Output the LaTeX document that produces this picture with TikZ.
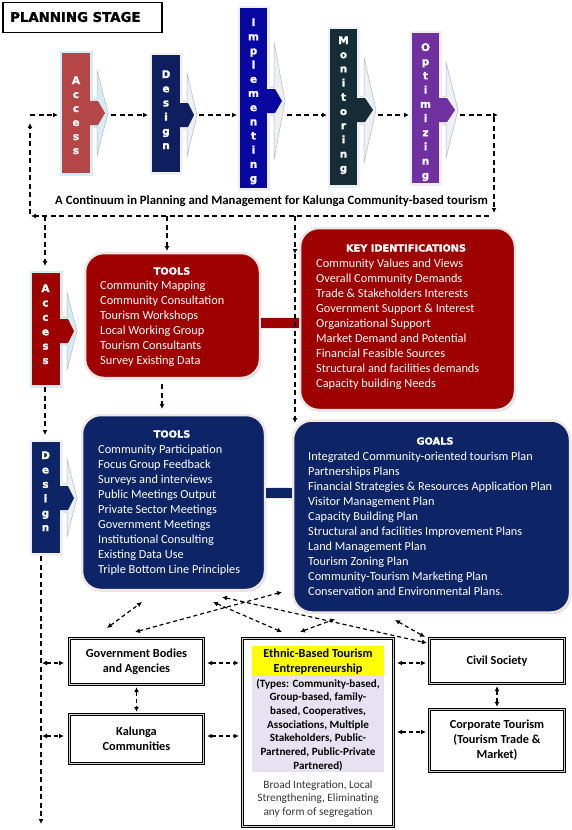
\documentclass[tikz,border=0pt]{standalone}
\usepackage{fontspec}
\setmainfont{Carlito}
\newfontfamily\heavy{DejaVu Sans}[BoldFeatures={FakeBold=1.6}]
\usetikzlibrary{arrows.meta,shadows}
\definecolor{topred}{RGB}{180,70,72}
\definecolor{topnavy}{RGB}{15,30,95}
\definecolor{implblue}{RGB}{8,8,160}
\definecolor{monteal}{RGB}{22,45,55}
\definecolor{optpurple}{RGB}{112,48,160}
\definecolor{boxred}{RGB}{158,0,0}
\definecolor{boxnavy}{RGB}{13,36,103}
\definecolor{paleblue}{RGB}{212,236,243}
\definecolor{palegray}{RGB}{238,240,246}
\definecolor{rim}{RGB}{242,230,230}
\definecolor{lavender}{RGB}{230,226,242}
\definecolor{textgray}{RGB}{55,55,55}
\definecolor{hilite}{RGB}{255,255,0}

% #1 L, #2 R, #3 T, #4 B, #5 C, #6 tip X, #7 head half height, #8 fill, #9 pale
\newcommand\arrowshape[9]{%
  \filldraw[fill=#9, draw=gray!55, line width=0.5pt]
    ({#2},{#5-14}) -- ({#2+7},{#5-14}) -- ({#2+7},{#5-#7}) -- ({#6},{#5})
    -- ({#2+7},{#5+#7}) -- ({#2+7},{#5+14}) -- ({#2},{#5+14}) -- cycle;
  \fill[#9] ({#1-2.5},{#3-2.5}) rectangle ({#2+2.5},{#4+2.5});
  \fill[#8] ({#1},{#3}) rectangle ({#2},{#4});
  \fill[#8] ({#2-1},{#5-12}) -- ({#2+8},{#5-12}) -- ({#6-3},{#5})
    -- ({#2+8},{#5+12}) -- ({#2-1},{#5+12}) -- cycle;
}

\tikzset{
  letter/.style={text=white, font=\heavy\bfseries\fontsize{10.5}{10}\selectfont, anchor=base, inner sep=0pt},
  head/.style={text=white, font=\heavy\bfseries\fontsize{9.8}{10}\selectfont, inner sep=0pt},
  body/.style={text=white, font=\fontsize{12.3}{15}\selectfont, anchor=base west, inner sep=0pt},
  rbox/.style={draw=rim, line width=2.5pt, fill=#1, rounded corners=19pt,
    drop shadow={shadow xshift=1.2pt, shadow yshift=-1.6pt, opacity=0.35}},
  dbox/.style={draw=black, line width=1.3pt, double=gray!35, double distance=1.1pt,
    fill=white, align=center, font=\bfseries\fontsize{12.3}{15}\selectfont, inner sep=0pt},
  flow/.style={line width=1.3pt, dash pattern=on 5pt off 3.5pt, -{Latex[length=5pt,width=5pt]}},
  twoway/.style={line width=1.2pt, dash pattern=on 4pt off 3pt,
    {Latex[length=5pt,width=5pt]}-{Latex[length=5pt,width=5pt]}},
  bar/.style={line width=#1},
}

\begin{document}
\begin{tikzpicture}[x=1pt,y=-1pt]
\useasboundingbox (0,0) rectangle (572,830);

% ---------------- title ----------------
\node[draw, line width=1.5pt, minimum width=159pt, minimum height=30pt, inner sep=0pt] (title) at (82.5,17.5) {};
\node[anchor=west, inner sep=0pt, font=\heavy\bfseries\fontsize{13.3}{13}\selectfont] (titletext) at (10,17) {PLANNING STAGE};

% ---------------- top row of stage arrows ----------------
\arrowshape{62}{90}{53}{173}{113}{108}{43}{topred}{paleblue}
\arrowshape{152}{180}{55}{172}{115}{197}{42}{topnavy}{palegray}
\arrowshape{240}{267}{8}{188}{101}{285}{59}{implblue}{palegray}
\arrowshape{330}{357}{29}{185}{110}{376}{53}{monteal}{palegray}
\arrowshape{412}{439}{33}{183}{110}{458}{48}{optpurple}{palegray}

\foreach \l [count=\i from 0] in {A,c,c,e,s,s}
  \node[letter] (ta\i) at (76,{84+\i*14}) {\l};
\foreach \l [count=\i from 0] in {D,e,s,i,g,n}
  \node[letter] (td\i) at (166,{78+\i*14.2}) {\l};
\foreach \l [count=\i from 0] in {I,m,p,l,e,m,e,n,t,i,n,g}
  \node[letter] (ti\i) at (253.5,{26+\i*14.18}) {\l};
\foreach \l [count=\i from 0] in {M,o,n,i,t,o,r,i,n,g}
  \node[letter] (tm\i) at (343.5,{44+\i*14.2}) {\l};
\foreach \l [count=\i from 0] in {O,p,t,i,m,i,z,i,n,g}
  \node[letter] (to\i) at (425.5,{51+\i*14.2}) {\l};

\node[anchor=base, inner sep=0pt, font=\bfseries\fontsize{12.7}{15}\selectfont] (caption) at (271.5,204)
  {A Continuum in Planning and Management for Kalunga Community-based tourism};

% named points of the flow loop
\coordinate (loopTL) at (30,115);
\coordinate (accW) at (58,115);
\coordinate (accE) at (111,115);
\coordinate (desW) at (148,115);
\coordinate (desE) at (199,115);
\coordinate (impW) at (237,115);
\coordinate (impE) at (287,115);
\coordinate (monW) at (327,115);
\coordinate (monE) at (378,115);
\coordinate (optW) at (409,115);
\coordinate (optE) at (460,115);
\coordinate (loopTR) at (498,115);
\coordinate (loopR1) at (494,117);
\coordinate (loopR2) at (494,213);
\coordinate (loopBR) at (489,216);
\coordinate (loopBL) at (31,216);
\coordinate (loopL1) at (30,214);
\coordinate (loopL2) at (30,123);

\draw[flow] (loopTL) -- (accW);
\draw[flow] (accE) -- (desW);
\draw[flow] (desE) -- (impW);
\draw[flow] (impE) -- (monW);
\draw[flow] (monE) -- (optW);
\draw[flow] (optE) -- (loopTR);
\draw[flow] (loopR1) -- (loopR2);
\draw[flow] (loopBR) -- (loopBL);
\draw[flow] (loopL1) -- (loopL2);

% ---------------- left stage arrows ----------------
\arrowshape{32}{60}{273}{385}{331}{77}{39}{boxred}{paleblue}
\arrowshape{32}{60}{442}{553}{498}{77}{39}{boxnavy}{palegray}
\foreach \l [count=\i from 0] in {A,c,c,e,s,s}
  \node[letter] (la\i) at (45.5,{292+\i*14.4}) {\l};
\foreach \l [count=\i from 0] in {D,e,s,i,g,n}
  \node[letter] (ld\i) at (45.5,{459+\i*14.4}) {\l};

% ---------------- rounded boxes ----------------
\node[rbox=boxred, minimum width=175pt, minimum height=125pt] (tools1) at (172.5,315.5) {};
\node[rbox=boxred, minimum width=215pt, minimum height=182pt] (key) at (407.5,319) {};
\node[rbox=boxnavy, minimum width=183pt, minimum height=175pt] (tools2) at (173.5,502.5) {};
\node[rbox=boxnavy, minimum width=277pt, minimum height=192pt] (goals) at (431.5,516.5) {};

% bars joining the boxes
\coordinate (bar1y) at (0,323);
\coordinate (bar2y) at (0,493);
\draw[bar=12.5pt, rim] (tools1.east |- bar1y) -- (key.west |- bar1y);
\draw[bar=9.5pt, boxred] (tools1.east |- bar1y) -- (key.west |- bar1y);
\draw[bar=12.5pt, rim] (tools2.east |- bar2y) -- (goals.west |- bar2y);
\draw[bar=9.5pt, boxnavy] (tools2.east |- bar2y) -- (goals.west |- bar2y);

% texts of the boxes
\node[head] (h1) at (172,271) {TOOLS};
\foreach \t [count=\i from 0] in {Community Mapping, Community Consultation, Tourism Workshops,
  Local Working Group, Tourism Consultants, Survey Existing Data}
  \node[body] (a\i) at (100,{289.5+\i*15}) {\t};

\node[head] (h2) at (406,248) {KEY IDENTIFICATIONS};
\foreach \t [count=\i from 0] in {Community Values and Views, Overall Community Demands,
  Trade \& Stakeholders Interests, Government Support \& Interest, Organizational Support,
  Market Demand and Potential, Financial Feasible Sources, Structural and facilities demands,
  Capacity building Needs}
  \node[body] (k\i) at (316,{267+\i*15}) {\t};

\node[head] (h3) at (172,434) {TOOLS};
\foreach \t [count=\i from 0] in {Community Participation, Focus Group Feedback,
  Surveys and interviews, Public Meetings Output, Private Sector Meetings,
  Government Meetings, Institutional Consulting, Existing Data Use,
  Triple Bottom Line Principles}
  \node[body] (b\i) at (98,{453+\i*15}) {\t};

\node[head] (h4) at (435,441) {GOALS};
\foreach \t [count=\i from 0] in {Integrated Community-oriented tourism Plan, Partnerships Plans,
  Financial Strategies \& Resources Application Plan, Visitor Management Plan,
  Capacity Building Plan, Structural and facilities Improvement Plans,
  Land Management Plan, Tourism Zoning Plan, Community-Tourism Marketing Plan,
  Conservation and Environmental Plans.}
  \node[body] (g\i) at (308,{460+\i*15}) {\t};

% ---------------- dashed links of the middle part ----------------
\coordinate (brA1) at (45,216);   \coordinate (brA2) at (45,266);
\coordinate (brT1) at (167,216);  \coordinate (brT2) at (167,251);
\coordinate (brK1) at (295,216);  \coordinate (brK2) at (295,254);
\coordinate (brK3) at (295,423);
\coordinate (acdn1) at (45,387);  \coordinate (acdn2) at (45,435);
\coordinate (tldn1) at (162,384); \coordinate (tldn2) at (162,409);
\coordinate (left1) at (41,556);  \coordinate (left2) at (41,824);

\draw[flow] (brA1) -- (brA2);
\draw[flow] (brT1) -- (brT2);
\draw[flow] (brK1) -- (brK2);
\draw[flow] (brK2) -- (brK3);
\draw[flow] (acdn1) -- (acdn2);
\draw[flow] (tldn1) -- (tldn2);
\draw[flow] (left1) -- (left2);

% ---------------- bottom boxes ----------------
\node[dbox, minimum width=134pt, minimum height=46pt] (gov) at (136.5,661.5) {Government Bodies\\and Agencies};
\node[dbox, minimum width=134pt, minimum height=49pt] (kal) at (136.5,739) {Kalunga\\Communities};
\node[dbox, minimum width=135pt, minimum height=45pt] (civ) at (497,661) {Civil Society};
\node[dbox, minimum width=135pt, minimum height=62pt] (corp) at (497,740.5) {Corporate Tourism\\(Tourism Trade \&\\Market)};
\node[dbox, minimum width=151pt, minimum height=188pt] (eth) at (318,732.5) {};
\fill[hilite] (252,646) rectangle (384,676);
\fill[lavender] (252,676) rectangle (384,772);
\node[anchor=base, inner sep=0pt, font=\bfseries\fontsize{12.3}{15}\selectfont] (e0) at (318,657) {Ethnic-Based Tourism};
\node[anchor=base, inner sep=0pt, font=\bfseries\fontsize{12.3}{15}\selectfont] (e1) at (318,672) {Entrepreneurship};
\foreach \t [count=\i from 0] in {{(Types: Community-based,}, {Group-based, family-},
  {based, Cooperatives,}, {Associations, Multiple}, {Stakeholders, Public-},
  {Partnered, Public-Private}, {Partnered)}}
  \node[anchor=base, inner sep=0pt, font=\bfseries\fontsize{11.1}{14}\selectfont] (ty\i) at (318,{687+\i*13.7}) {\t};
\foreach \t [count=\i from 0] in {{Broad Integration, Local}, {Strengthening, Eliminating},
  {any form of segregation}}
  \node[anchor=base, inner sep=0pt, text=textgray, font=\fontsize{11.3}{14}\selectfont] (br\i) at (318,{788+\i*13.5}) {\t};

% ---------------- two-way links ----------------
\coordinate (lg1) at (42,663);  \coordinate (lg2) at (64,663);
\coordinate (lk1) at (42,736);  \coordinate (lk2) at (64,736);
\coordinate (ycorp) at (0,732);
\coordinate (ykal) at (0,736);
\coordinate (ygov) at (0,663);
\draw[twoway] (lg1) -- (lg2);
\draw[twoway] (lk1) -- (lk2);
\draw[twoway, shorten <=2pt, shorten >=2pt] (gov.south) -- (kal.north);
\draw[twoway, shorten <=2pt, shorten >=2pt] (civ.south) -- (corp.north);
\draw[twoway, shorten <=3pt, shorten >=3pt] (gov.east |- ygov) -- (eth.west |- ygov);
\draw[twoway, shorten <=3pt, shorten >=3pt] (kal.east |- ykal) -- (eth.west |- ykal);
\draw[twoway, shorten <=3pt, shorten >=3pt] (eth.east |- ygov) -- (civ.west |- ygov);
\draw[twoway, shorten <=3pt, shorten >=3pt] (eth.east |- ycorp) -- (corp.west |- ycorp);

\coordinate (d1a) at (107,628); \coordinate (d1b) at (142,602);
\coordinate (d2a) at (135,632); \coordinate (d2b) at (282,592);
\coordinate (d3a) at (213,602); \coordinate (d3b) at (282,632);
\coordinate (d4a) at (222,597); \coordinate (d4b) at (427,643);
\coordinate (d5a) at (300,632); \coordinate (d5b) at (335,619);
\coordinate (d6a) at (395,620); \coordinate (d6b) at (425,637);
\draw[twoway] (d1a) -- (d1b);
\draw[twoway] (d2a) -- (d2b);
\draw[twoway] (d3a) -- (d3b);
\draw[twoway] (d4a) -- (d4b);
\draw[twoway] (d5a) -- (d5b);
\draw[twoway] (d6a) -- (d6b);
\end{tikzpicture}
\end{document}
